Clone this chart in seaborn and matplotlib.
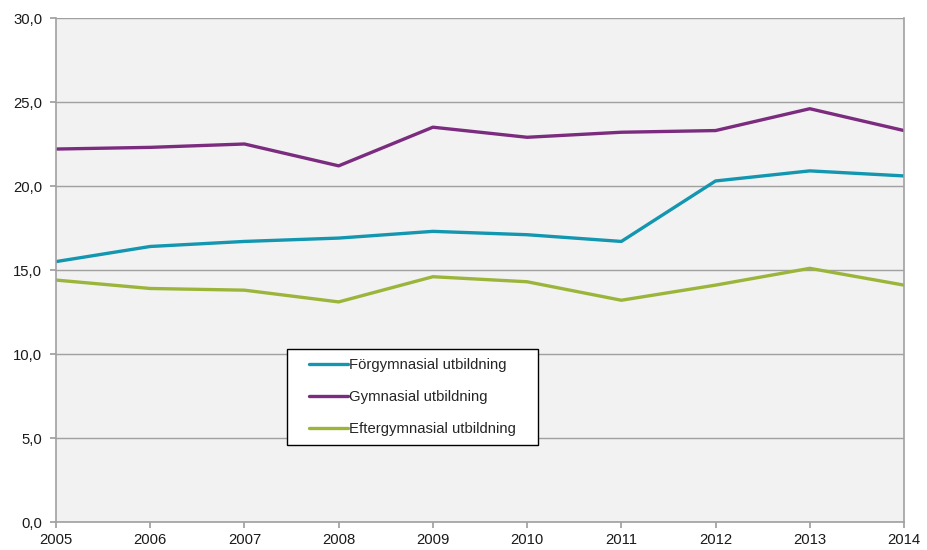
import matplotlib
matplotlib.use("Agg")
import matplotlib.pyplot as plt
import pandas as pd
import seaborn as sns

years = [2005, 2006, 2007, 2008, 2009, 2010, 2011, 2012, 2013, 2014]
forgymnasial = [15.5, 16.4, 16.7, 16.9, 17.3, 17.1, 16.7, 20.3, 20.9, 20.6]
gymnasial = [22.2, 22.3, 22.5, 21.2, 23.5, 22.9, 23.2, 23.3, 24.6, 23.3]
eftergymnasial = [14.4, 13.9, 13.8, 13.1, 14.6, 14.3, 13.2, 14.1, 15.1, 14.1]

series_names = ["Förgymnasial utbildning", "Gymnasial utbildning", "Eftergymnasial utbildning"]
colors = ["#1396B0", "#7B2C7F", "#9BB53B"]

df = pd.DataFrame({
    "År": years * 3,
    "Värde": forgymnasial + gymnasial + eftergymnasial,
    "Serie": [series_names[0]] * 10 + [series_names[1]] * 10 + [series_names[2]] * 10,
})

sns.set_theme(style="white")
plt.rcParams["font.family"] = ["Liberation Sans", "DejaVu Sans"]

fig = plt.figure(figsize=(9.27, 5.5), dpi=100)
ax = fig.add_axes([56 / 927, 28 / 550, 848 / 927, 504 / 550])
ax.set_facecolor("#F2F2F2")

sns.lineplot(data=df, x="År", y="Värde", hue="Serie", palette=colors,
             linewidth=2.4, ax=ax, legend=True)

ax.set_xlim(2005, 2014)
ax.set_ylim(0, 30)
ax.set_xticks(years)
ax.set_yticks(range(0, 31, 5))
ax.set_yticklabels([f"{v:.1f}".replace(".", ",") for v in range(0, 31, 5)])
ax.set_xlabel("")
ax.set_ylabel("")
ax.yaxis.grid(True, color="#A0A0A0", linewidth=1)
ax.set_axisbelow(True)
for side in ["left", "bottom", "right"]:
    ax.spines[side].set_color("#A0A0A0")
    ax.spines[side].set_linewidth(1.2)
ax.spines["top"].set_visible(False)
ax.tick_params(axis="both", which="both", length=4, color="#A0A0A0",
               labelsize=10.7, labelcolor="#1a1a1a", direction="out",
               left=True, bottom=True)
ax.tick_params(axis="x", pad=4)
ax.tick_params(axis="y", pad=6)

# legend placed inside the plot like the original
fs = 10.7
leg = ax.legend(loc="lower left", bbox_to_anchor=(0.272, 0.153, 0.296, 0.196),
                mode="expand", borderaxespad=0, frameon=True, fancybox=False,
                framealpha=1, fontsize=fs, handlelength=3.5, handletextpad=0.1,
                borderpad=0.6, labelspacing=1.2, title=None)
leg.get_frame().set_edgecolor("black")
leg.get_frame().set_facecolor("white")
leg.get_frame().set_linewidth(1)
# shorter handle lines with a left gap, as in the original
for line in leg.get_lines():
    xd = list(line.get_xdata())
    yd = list(line.get_ydata())
    line.set_data([xd[0] + 0.9 * fs, xd[-1]], [yd[0], yd[-1]])

fig.savefig("out.png", dpi=100)
